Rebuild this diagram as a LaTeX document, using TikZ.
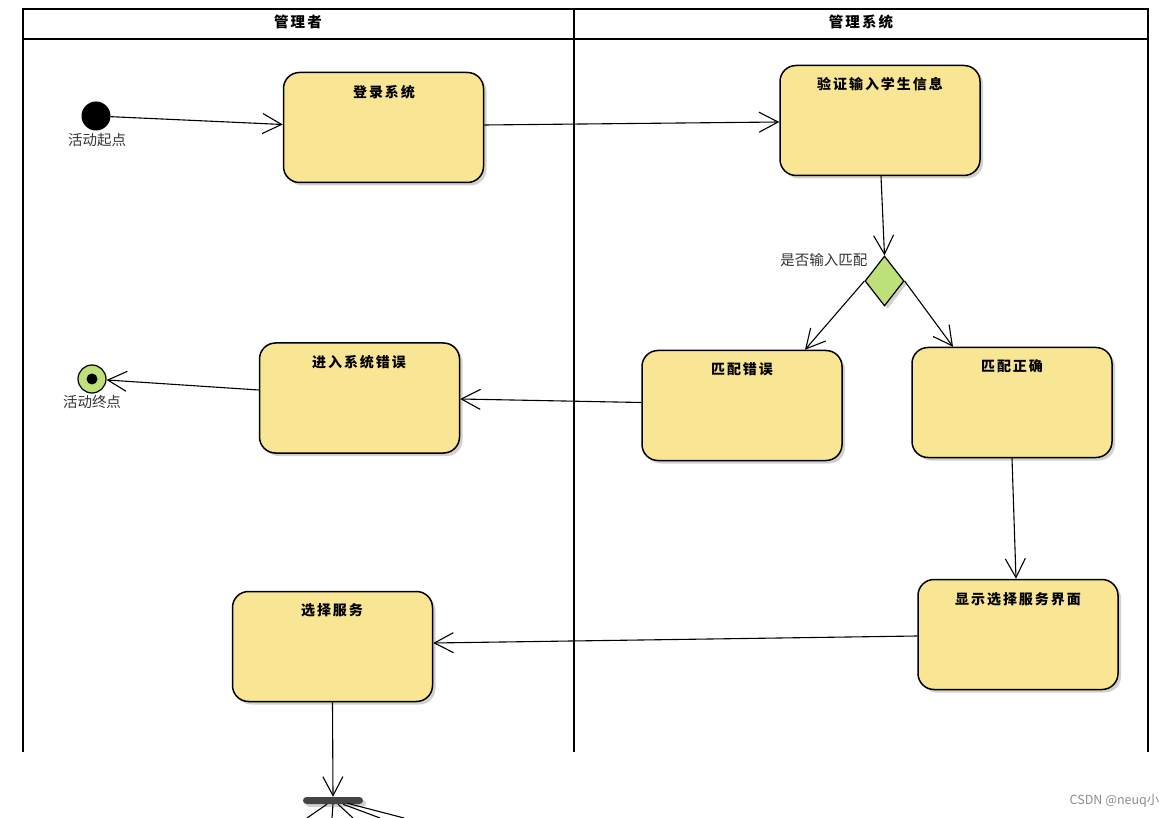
\documentclass[tikz,border=0pt]{standalone}
\usepackage{fontspec}
\usetikzlibrary{arrows.meta,shadows,shapes.geometric,calc}
\newfontfamily\cjk{Noto Sans CJK SC}
\newfontfamily\cjkb[LetterSpace=14]{Noto Sans CJK SC}
\definecolor{actfill}{RGB}{248,230,148}
\definecolor{decfill}{RGB}{190,224,120}
\definecolor{barcol}{RGB}{68,68,68}
\tikzset{
  act/.style={draw=black, line width=1.5pt, fill=actfill, rounded corners=16pt,
    minimum width=200pt, minimum height=110pt,
    drop shadow={shadow xshift=3pt, shadow yshift=-3pt, fill=black!18, opacity=1}},
  acttitle/.style={font=\cjkb\bfseries\fontsize{14}{16}\selectfont, anchor=center},
  dec/.style={draw=black, line width=1.2pt, fill=decfill, diamond, minimum width=39pt, minimum height=50pt, inner sep=0pt, aspect=0.78,
    drop shadow={shadow xshift=3pt, shadow yshift=-3pt, fill=black!18, opacity=1}},
  flow/.style={draw=black, line width=1.1pt, -{Straight Barb[length=19pt,width=20pt,line width=1.1pt]}},
  lane/.style={draw=black, line width=1.7pt},
  lbl/.style={font=\cjk\fontsize{14.5}{16}\selectfont, text=black!80},
  lanetitle/.style={font=\cjkb\bfseries\fontsize{14.5}{16}\selectfont}
}
\begin{document}
\begin{tikzpicture}[x=1pt,y=-1pt]
\useasboundingbox (0,0) rectangle (1176,818);
% swimlanes
\draw[lane] (23,752) -- (23,9) -- (1148,9) -- (1148,752);
\draw[lane] (23,39) -- (1148,39);
\draw[lane] (574,9) -- (574,752);
\node[lanetitle] (h1) at (298,22) {管理者};
\node[lanetitle] (h2) at (861,22) {管理系统};
% start / end
\node[circle, fill=black, minimum size=29pt, inner sep=0pt] (start) at (96,116) {};
\node[lbl, anchor=north] (startl) at (97,130) {活动起点};
\node[circle, draw=black, line width=1.2pt, fill=decfill, minimum size=28pt, inner sep=0pt] (end) at (92,379) {};
\node[circle, fill=black, minimum size=11pt, inner sep=0pt] (endd) at (92,379) {};
\node[lbl, anchor=north] (endl) at (92,392) {活动终点};
% activities
\node[act] (login) at (383.5,127.5) {};
\node[acttitle] at (384,92) {登录系统};
\node[act] (verify) at (880,120.5) {};
\node[acttitle] at (880,84) {验证输入学生信息};
\node[dec] (dec) at (884.5,281) {};
\node[lbl, anchor=east] (decl) at (871,260) {是否输入匹配};
\node[act] (err) at (742,405.5) {};
\node[acttitle] at (742,369) {匹配错误};
\node[act] (ok) at (1012,402.5) {};
\node[acttitle] at (1012,366) {匹配正确};
\node[act] (syserr) at (359.5,398) {};
\node[acttitle] at (359,362) {进入系统错误};
\node[act] (show) at (1018,634.5) {};
\node[acttitle] at (1018,599) {显示选择服务界面};
\node[act] (choose) at (332.5,646.5) {};
\node[acttitle] at (332,610) {选择服务};
% fork bar
\node[rectangle, rounded corners=3.5pt, fill=barcol, minimum width=60pt, minimum height=7pt, inner sep=0pt,
  drop shadow={shadow xshift=3pt, shadow yshift=-3pt, fill=black!18, opacity=1}] (bar) at (333,800.5) {};
\coordinate (o1) at (307,818);
\coordinate (o2) at (332,818);
\coordinate (o3) at (353,818);
\coordinate (o4) at (380,818);
\coordinate (o5) at (404,818);
% connectors
\draw[flow] (start) -- ($(login.west)+(0,-3)$);
\draw[flow] ($(login.east)+(0,-2.5)$) -- ($(verify.west)+(0,1.5)$);
\draw[flow] ($(verify.south)+(1,0)$) -- (dec.north);
\draw[flow] (dec.west) -- ($(err.north)+(63,0)$);
\draw[flow] (dec.east) -- ($(ok.north)+(-59,0)$);
\draw[flow] ($(err.west)+(0,-3)$) -- ($(syserr.east)+(0,1)$);
\draw[flow] ($(syserr.west)+(0,-8)$) -- (end);
\draw[flow] (ok.south) -- ($(show.north)+(-2,0)$);
\draw[flow] ($(show.west)+(0,1.5)$) -- ($(choose.east)+(0,-3.5)$);
\draw[flow] (choose.south) -- (bar.north);
\draw[line width=1.1pt] ($(bar.south)+(-6,0)$) -- (o1);
\draw[line width=1.1pt] (bar.south) -- (o2);
\draw[line width=1.1pt] ($(bar.south)+(5,0)$) -- (o3);
\draw[line width=1.1pt] ($(bar.south)+(10,0)$) -- (o4);
\draw[line width=1.1pt] ($(bar.south)+(14,-1)$) -- (o5);
% watermark
\node[font=\fontspec{Noto Sans CJK SC}\fontsize{12.5}{14}\selectfont, text=black!45, anchor=east] (wm) at (1163,801) {CSDN @neuq小};
\end{tikzpicture}
\end{document}
